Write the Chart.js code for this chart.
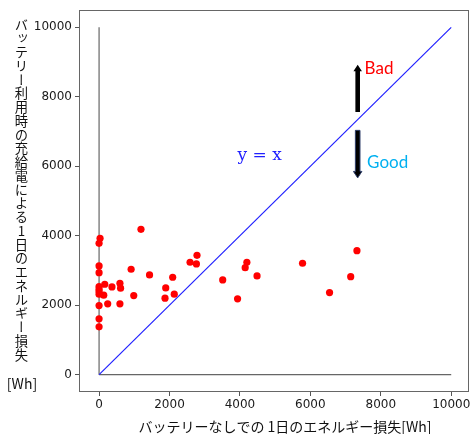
<!DOCTYPE html>
<html>
<head>
<meta charset="utf-8">
<script src="https://cdn.jsdelivr.net/npm/chart.js@4.4.1/dist/chart.umd.min.js"></script>
<style>
  html, body { margin: 0; padding: 0; background: #ffffff; }
  #wrap { position: relative; width: 473px; height: 434px; overflow: hidden; background: #fff; }
  #c { position: absolute; left: 0; top: 0; }
  #ytitle {
    position: absolute; left: 13px; top: 18px; width: 17px;
    writing-mode: vertical-rl; text-orientation: upright;
    font-family: "Noto Sans CJK JP", sans-serif; font-size: 13.3px; line-height: 17px;
    letter-spacing: 0.45px;
    color: #111; white-space: nowrap;
  }
  #yunit {
    position: absolute; left: 2px; top: 375px; width: 40px; text-align: center;
    font-family: "Noto Sans CJK JP", sans-serif; font-size: 14px; line-height: 16px; color: #111;
  }
</style>
</head>
<body>
<div id="wrap">
  <canvas id="c" width="473" height="434"></canvas>
  <div id="ytitle">バッテリー利用時の充給電による1日のエネルギー損失</div>
  <div id="yunit">[Wh]</div>
</div>
<script>
// ---- data ----
const xTicks = [0, 2000, 4000, 6000, 8000, 10000];
const yTicks = [0, 2000, 4000, 6000, 8000, 10000];

// daily energy loss without battery [Wh]
const lossWithoutBattery = [28, 0, 0, 0, 0, 0, 0, 0, 161, 132, 366, 592, 611, 245, 592, 0, 0, 0,
  1190, 910, 985, 1433, 2090, 1893, 1873, 2135, 2584, 2781, 2764, 3511, 3933, 4149, 4197, 4486,
  5778, 7323, 7146, 6545];
// daily energy loss with battery charge/discharge [Wh]
const lossWithBattery = [3924, 3781, 3129, 2937, 2535, 2460, 2391, 2316, 2603, 2288, 2527, 2632, 2489, 2038, 2038, 1990, 1608, 1378,
  4183, 3035, 2277, 2871, 2805, 2498, 2202, 2317, 3236, 3437, 3187, 2728, 2182, 3081, 3236, 2842,
  3207, 3569, 2822, 2363];

const refLineX = [0, 10000];   // y = x
const refLineY = [0, 10000];
const vAxisX = [0, 0], vAxisY = [0, 10000];
const hAxisX = [0, 10000], hAxisY = [0, 0];

const xTitle = 'バッテリーなしでの 1日のエネルギー損失[Wh]';
const eqLabel = 'y = x';
const badLabel = 'Bad';
const goodLabel = 'Good';
// annotation anchors (data coordinates)
const eqPos = [4560, 6316];
const badPos = [7541, 8829];
const goodPos = [7611, 6115];
const arrowUp = [7344, 7560, 8921];   // x, from y, to y
const arrowDown = [7344, 7034, 5665];

const toXY = (xs, ys) => xs.map((x, i) => ({ x: x, y: ys[i] }));

const framePlugin = {
  id: 'frame',
  afterDatasetsDraw(chart) {
    const ctx = chart.ctx;
    const a = chart.chartArea;
    const xs = chart.scales.x, ys = chart.scales.y;
    ctx.save();
    // frame (spines)
    ctx.strokeStyle = '#666';
    ctx.lineWidth = 1;
    ctx.strokeRect(a.left + 0.5, a.top + 0.5, a.right - a.left - 1, a.bottom - a.top - 1);

    // arrows
    const drawArrow = (spec, fill, stroke) => {
      const px = xs.getPixelForValue(spec[0]);
      const y0 = ys.getPixelForValue(spec[1]);
      const y1 = ys.getPixelForValue(spec[2]);
      const dir = y1 < y0 ? -1 : 1;
      const shaftW = 4.6, headW = 8.5, headH = 6.5;
      const yHeadBase = y1 - dir * headH;
      ctx.beginPath();
      ctx.moveTo(px - shaftW / 2, y0);
      ctx.lineTo(px - shaftW / 2, yHeadBase);
      ctx.lineTo(px - headW / 2, yHeadBase);
      ctx.lineTo(px, y1);
      ctx.lineTo(px + headW / 2, yHeadBase);
      ctx.lineTo(px + shaftW / 2, yHeadBase);
      ctx.lineTo(px + shaftW / 2, y0);
      ctx.closePath();
      ctx.fillStyle = fill;
      ctx.fill();
      if (stroke) { ctx.strokeStyle = stroke; ctx.lineWidth = 1; ctx.stroke(); }
    };
    drawArrow(arrowUp, '#000', null);
    drawArrow(arrowDown, '#000', '#2f3f6a');

    // texts
    ctx.textBaseline = 'middle';
    ctx.textAlign = 'left';
    ctx.font = '17px Lato, "Liberation Sans", sans-serif';
    ctx.fillStyle = '#ff0000';
    ctx.fillText(badLabel, xs.getPixelForValue(badPos[0]), ys.getPixelForValue(badPos[1]));
    ctx.fillStyle = '#00b0f0';
    ctx.fillText(goodLabel, xs.getPixelForValue(goodPos[0]), ys.getPixelForValue(goodPos[1]));
    ctx.textAlign = 'center';
    ctx.font = '17px "DejaVu Serif", serif';
    ctx.fillStyle = '#2020ff';
    ctx.fillText(eqLabel, xs.getPixelForValue(eqPos[0]), ys.getPixelForValue(eqPos[1]));

    // x title
    ctx.font = '14px "Noto Sans CJK JP", sans-serif';
    ctx.fillStyle = '#111';
    ctx.textAlign = 'center';
    ctx.fillText(xTitle, 285, 427);
    ctx.restore();
  }
};

const tickFmt = (v) => String(v);

new Chart(document.getElementById('c'), {
  type: 'scatter',
  data: {
    datasets: [
      {
        label: 'loss',
        data: toXY(lossWithoutBattery, lossWithBattery),
        backgroundColor: '#ff0000',
        borderWidth: 0,
        pointRadius: 3.6,
        order: 0
      },
      {
        label: 'y=x',
        data: toXY(refLineX, refLineY),
        showLine: true,
        borderColor: '#2020ff',
        borderWidth: 1.2,
        pointRadius: 0,
        order: 1
      },
      {
        label: 'vaxis',
        data: toXY(vAxisX, vAxisY),
        showLine: true,
        borderColor: '#666',
        borderWidth: 1.2,
        pointRadius: 0,
        order: 2
      },
      {
        label: 'haxis',
        data: toXY(hAxisX, hAxisY),
        showLine: true,
        borderColor: '#666',
        borderWidth: 1.2,
        pointRadius: 0,
        order: 3
      }
    ]
  },
  options: {
    responsive: false,
    animation: false,
    events: [],
    layout: { padding: { left: 0, top: 10, right: 0, bottom: 0 } },
    plugins: { legend: { display: false }, tooltip: { enabled: false }, title: { display: false } },
    scales: {
      x: {
        type: 'linear',
        min: -570, max: 10505,
        afterBuildTicks: (s) => { s.ticks = xTicks.map(v => ({ value: v })); },
        afterFit: (s) => { s.height = 42; s.paddingLeft = 0; s.paddingRight = 0; },
        grid: { drawOnChartArea: false, drawTicks: true, tickLength: 4, color: '#555' },
        border: { display: false },
        ticks: { font: { family: '"DejaVu Sans", sans-serif', size: 12 }, color: '#1a1a1a', padding: 2, maxRotation: 0, autoSkip: false, callback: tickFmt }
      },
      y: {
        type: 'linear',
        min: -500, max: 10500,
        afterBuildTicks: (s) => { s.ticks = yTicks.map(v => ({ value: v })); },
        afterFit: (s) => { s.width = 79; s.paddingTop = 0; s.paddingBottom = 0; },
        grid: { drawOnChartArea: false, drawTicks: true, tickLength: 4, color: '#555' },
        border: { display: false },
        ticks: { font: { family: '"DejaVu Sans", sans-serif', size: 12 }, color: '#1a1a1a', padding: 3, autoSkip: false, callback: tickFmt }
      }
    }
  },
  plugins: [framePlugin]
});
</script>
</body>
</html>
